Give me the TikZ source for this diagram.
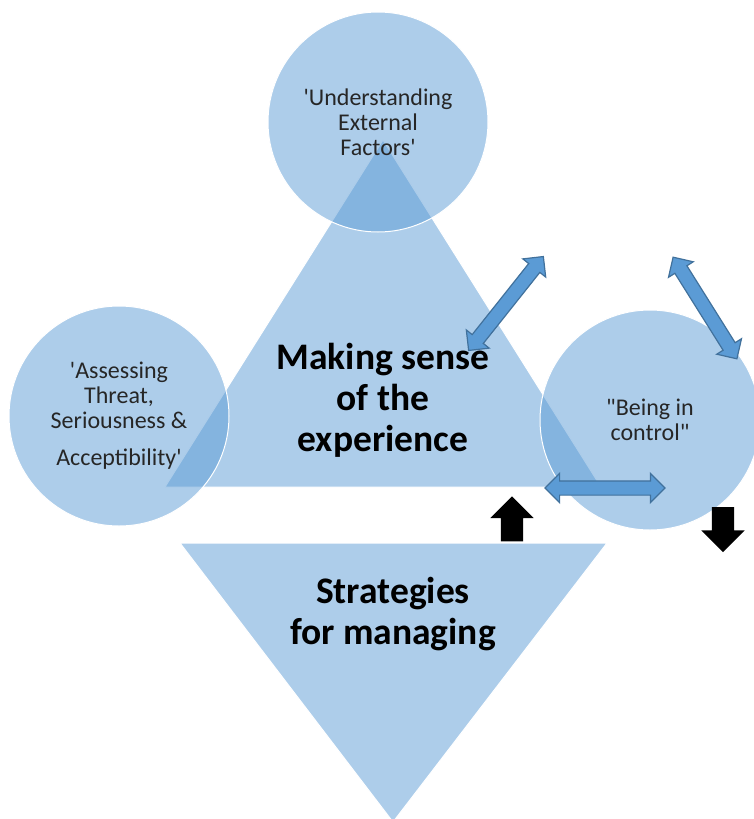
\documentclass[tikz,border=0pt]{standalone}
\usepackage{fontspec}
\newfontfamily\calibri{Carlito}
\usetikzlibrary{shapes.arrows, positioning}

\definecolor{themeblue}{HTML}{5B9BD5}
\definecolor{lineblue}{HTML}{41719C}

\begin{document}
\begin{tikzpicture}[
    x=1pt, y=-1pt,
    theme/.style={circle, draw=white, line width=1pt, fill=themeblue, fill opacity=0.5,
                  minimum size=220pt, inner sep=0pt},
    stage/.style={draw=white, line width=1pt, fill=themeblue, fill opacity=0.5},
    themetext/.style={align=center, text=black!85, font=\calibri\fontsize{24}{25}\selectfont},
    headtext/.style={align=center, text=black, font=\calibri\bfseries\fontsize{37.5}{41}\selectfont},
    link/.style={double arrow, draw=lineblue, line width=1.2pt, fill=themeblue,
                 minimum height=120pt, inner xsep=0pt, inner ysep=6.5pt, double arrow head extend=7.5pt},
    push/.style={single arrow, fill=black, minimum height=45pt, inner xsep=0pt, inner ysep=11pt,
                 single arrow head extend=10.5pt}
]
\useasboundingbox (0,0) rectangle (753,819);

% Triangles
\filldraw[stage] (383,140) -- (601,487) -- (165,487) -- cycle;
\filldraw[stage] (180,543) -- (607,543) -- (393,822) -- cycle;

% Themes
\node[theme] (external) at (378,122) {};
\node[theme] (threat) at (119,416) {};
\node[theme] (control) at (650,420) {};

% Texts
\node[headtext] (sense) at (383,400) {Making sense\\of the\\experience};
\node[headtext] (managing) at (393,614) {Strategies\\for managing};
\node[themetext] at (external) {'Understanding\\External\\Factors'};
\node[themetext] at (threat) {'Assessing\\Threat,\\Seriousness \&\\[12pt]Acceptibility'};
\node[themetext] at (control) {"Being in\\control"};

% Arrows
\node[link, rotate=51.5] (senselink) at (506,303.5) {};
\node[link, rotate=-57.9] (controllink) at (705,308) {};
\node[link] (baselink) at (605,488) {};
\node[push, rotate=90] (uppush) at (512,524.5) {};
\node[push, rotate=-90] (downpush) at (723,524) {};

\end{tikzpicture}
\end{document}
